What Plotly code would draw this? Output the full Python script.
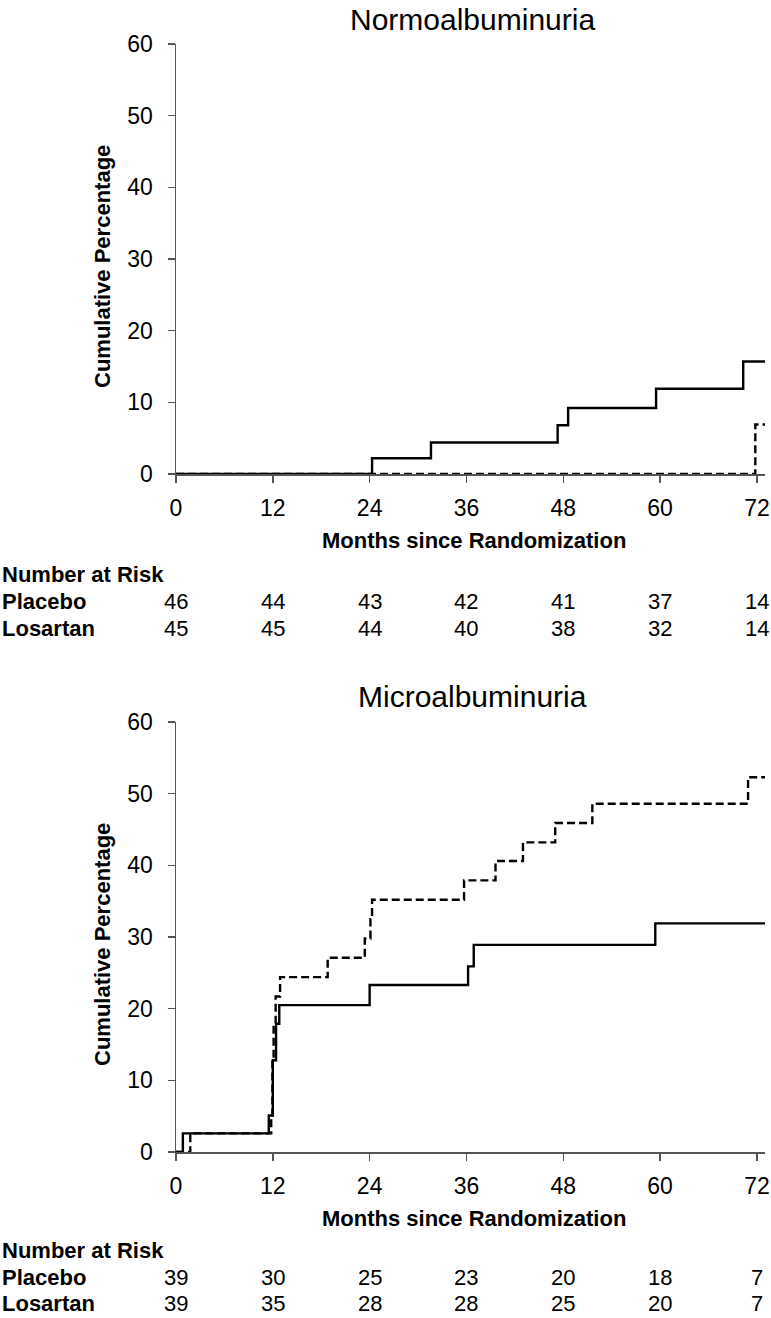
import plotly.graph_objects as go

# ---------------- data ----------------
tick_months = [0, 12, 24, 36, 48, 60, 72]
y_ticks = [0, 10, 20, 30, 40, 50, 60]

# Normoalbuminuria
normo_placebo_months = [0, 24.3, 31.6, 47.3, 48.6, 59.5, 70.3, 73]
normo_placebo_pct = [0, 2.2, 4.4, 6.8, 9.2, 11.9, 15.7, 15.7]
normo_losartan_months = [0, 71.8, 73]
normo_losartan_pct = [0, 6.9, 6.9]
normo_risk_placebo = [46, 44, 43, 42, 41, 37, 14]
normo_risk_losartan = [45, 45, 44, 40, 38, 32, 14]

# Microalbuminuria
micro_placebo_months = [0, 0.85, 11.5, 12.0, 12.4, 12.8, 24.0, 36.2, 36.9, 59.4, 73]
micro_placebo_pct = [0, 2.6, 5.1, 12.8, 17.9, 20.5, 23.3, 25.9, 28.9, 31.9, 31.9]
micro_losartan_months = [0, 1.77, 11.8, 11.95, 12.1, 12.35, 12.9, 18.8, 23.4, 24.1, 24.3,
                         35.7, 39.6, 43.0, 47.0, 51.6, 70.9, 73]
micro_losartan_pct = [0, 2.6, 5.1, 12.8, 18.0, 21.7, 24.4, 27.1, 29.8, 32.5, 35.2,
                      37.9, 40.6, 43.2, 45.9, 48.6, 52.3, 52.3]
micro_risk_placebo = [39, 30, 25, 23, 20, 18, 7]
micro_risk_losartan = [39, 35, 28, 28, 25, 20, 7]

titles = ["Normoalbuminuria", "Microalbuminuria"]
row_labels = ["Placebo", "Losartan"]

# ---------------- layout helpers ----------------
W, H = 771, 1318
FONT = "Arial, Liberation Sans, sans-serif"
AX = "#555555"


def px(x):
    return x / W


def py(y):
    return 1 - y / H


x_left, x_right = 176, 765
panels = [
    dict(top=44, bottom=474, title=20, xtitle=540, table=[574, 601, 628]),
    dict(top=722, bottom=1152, title=696, xtitle=1218, table=[1250, 1277, 1303]),
]

fig = go.Figure()

series = [
    (normo_placebo_months, normo_placebo_pct, normo_losartan_months, normo_losartan_pct,
     normo_risk_placebo, normo_risk_losartan),
    (micro_placebo_months, micro_placebo_pct, micro_losartan_months, micro_losartan_pct,
     micro_risk_placebo, micro_risk_losartan),
]

annotations = []
for i, (pm, pp, lm, lp, rp, rl) in enumerate(series):
    xa = "x" if i == 0 else "x2"
    ya = "y" if i == 0 else "y2"
    fig.add_trace(go.Scatter(x=lm, y=lp, mode="lines", line_shape="hv", xaxis=xa, yaxis=ya,
                             line=dict(color="black", width=2.4, dash="8px,4px"),
                             name="Losartan", showlegend=False, hoverinfo="skip"))
    fig.add_trace(go.Scatter(x=pm, y=pp, mode="lines", line_shape="hv", xaxis=xa, yaxis=ya,
                             line=dict(color="black", width=2.4),
                             name="Placebo", showlegend=False, hoverinfo="skip"))

    p = panels[i]
    # panel title
    annotations.append(dict(text=titles[i], x=px(472), y=py(p["title"]), xref="paper", yref="paper",
                            showarrow=False, xanchor="center", yanchor="middle",
                            font=dict(family=FONT, size=30, color="black")))
    # y axis title
    annotations.append(dict(text="<b>Cumulative Percentage</b>", x=px(102),
                            y=py((p["top"] + p["bottom"]) / 2 + 8),
                            xref="paper", yref="paper", showarrow=False, textangle=-90,
                            xanchor="center", yanchor="middle",
                            font=dict(family=FONT, size=22, color="black")))
    # x axis title
    annotations.append(dict(text="<b>Months since Randomization</b>", x=px(474), y=py(p["xtitle"]),
                            xref="paper", yref="paper", showarrow=False,
                            xanchor="center", yanchor="middle",
                            font=dict(family=FONT, size=22, color="black")))
    # number at risk table
    annotations.append(dict(text="<b>Number at Risk</b>", x=0, y=py(p["table"][0]), xref="paper",
                            yref="paper", showarrow=False, xanchor="left", yanchor="middle",
                            font=dict(family=FONT, size=22, color="black")))
    for r, (lab, vals) in enumerate(zip(row_labels, [rp, rl])):
        yy = py(p["table"][r + 1])
        annotations.append(dict(text=f"<b>{lab}</b>", x=0, y=yy, xref="paper", yref="paper",
                                showarrow=False, xanchor="left", yanchor="middle",
                                font=dict(family=FONT, size=22, color="black")))
        for m, v in zip(tick_months, vals):
            annotations.append(dict(text=str(v), x=m, y=yy, xref=xa, yref="paper",
                                    showarrow=False, xanchor="center", yanchor="middle",
                                    font=dict(family=FONT, size=22, color="black")))

common_x = dict(range=[0, 73], tickmode="array", tickvals=tick_months,
                ticktext=[str(t) for t in tick_months],
                showline=True, linecolor=AX, linewidth=1.5, ticks="outside", ticklen=7,
                tickcolor=AX, tickwidth=1.5, showgrid=False, zeroline=False,
                tickfont=dict(family=FONT, size=23, color="black"), automargin=False,
                ticklabelstandoff=6, domain=[px(x_left), px(x_right)], fixedrange=True)
common_y = dict(range=[0, 60], tickmode="array", tickvals=y_ticks,
                showline=True, linecolor=AX, linewidth=1.5, ticks="outside", ticklen=7,
                tickcolor=AX, tickwidth=1.5, showgrid=False, zeroline=False,
                tickfont=dict(family=FONT, size=23, color="black"), automargin=False,
                ticklabelstandoff=10, fixedrange=True)

fig.update_layout(
    width=W, height=H,
    margin=dict(l=0, r=0, t=0, b=0),
    paper_bgcolor="white", plot_bgcolor="white",
    showlegend=False,
    xaxis=dict(common_x, anchor="y"),
    yaxis=dict(common_y, anchor="x", domain=[py(panels[0]["bottom"]), py(panels[0]["top"])]),
    xaxis2=dict(common_x, anchor="y2"),
    yaxis2=dict(common_y, anchor="x2", domain=[py(panels[1]["bottom"]), py(panels[1]["top"])]),
    annotations=annotations,
)

fig.write_html(
    "out.html",
    config={"displayModeBar": False, "staticPlot": True},
    post_script="document.body.style.margin='0';document.body.style.overflow='hidden';",
)
